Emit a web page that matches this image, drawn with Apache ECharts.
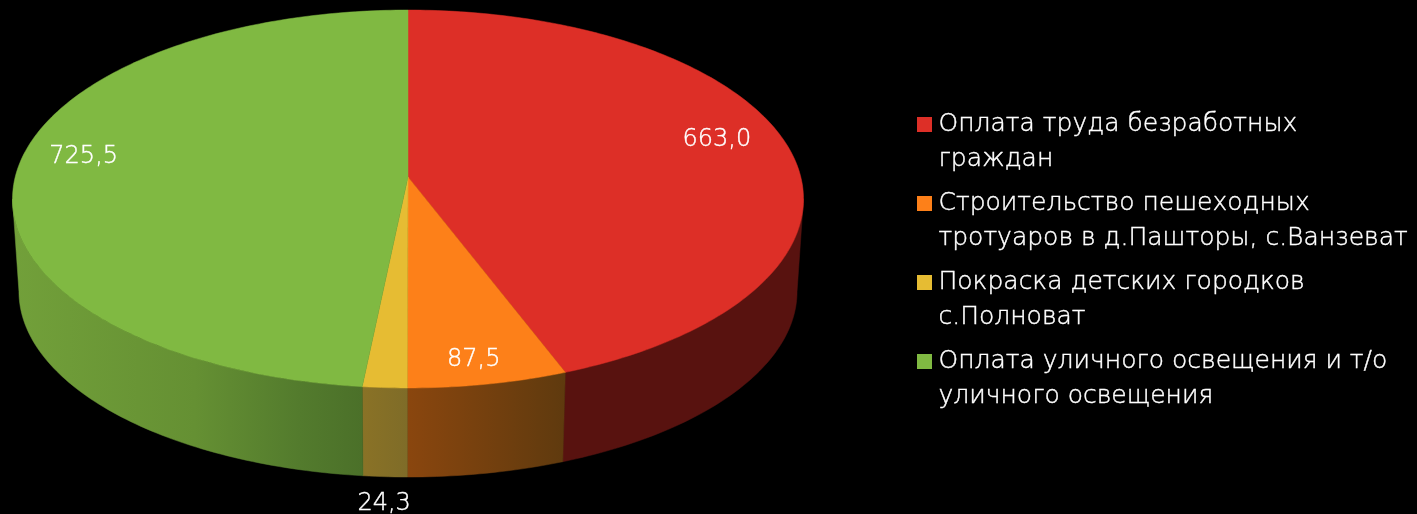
<!DOCTYPE html>
<html><head><meta charset="utf-8">
<style>html,body{margin:0;padding:0;background:#000}#c{width:1417px;height:514px}</style>
<script src="https://cdn.jsdelivr.net/npm/echarts@6/dist/echarts.min.js"></script>
</head><body><div id="c"></div>
<script>
const categories = [
  'Оплата труда безработных\nграждан',
  'Строительство пешеходных\nтротуаров в д.Пашторы, с.Ванзеват',
  'Покраска детских городков\nс.Полноват',
  'Оплата уличного освещения и т/о\nуличного освещения'
];
const values = [663.0, 87.5, 24.3, 725.5];
const topColors = ['#dd2f27', '#fd8019', '#e6bc33', '#80b942'];
const wallStops = [
  [[0, '#58120f'], [1, '#58120f']],
  [[0, '#8a460e'], [1, '#5f3a0e']],
  [[0, '#8a7226'], [1, '#7f6c28']],
  [[0, '#72a03a'], [0.52, '#659033'], [0.82, '#537b2d'], [1, '#4b7029']]
];
const labelRadius = [0.8, 0.72, 1.17, 0.8];
const labelOffsets = [[5, -11], [10, 39], [4, 75], [-12, -13]];

const total = values.reduce((a, b) => a + b, 0);
const k = 0.1164;
const topDisk = { cx: 408, cy: 177, a: 392.8, b: 186.4 };
const baseDisk = { cx: 408, cy: 269.9, a: 386.4, b: 183 };
const rimLimit = Math.acos(-k);

function project(d, theta, r) {
  const u = Math.sin(theta) * r, v = Math.cos(theta) * r, w = 1 + k * v;
  return [d.cx + d.a * u / w, d.cy - d.b * v / w];
}
function arc(d, t0, t1) {
  const n = Math.max(2, Math.ceil(Math.abs(t1 - t0) * 60)), pts = [];
  for (let i = 0; i <= n; i++) pts.push(project(d, t0 + (t1 - t0) * i / n, 1));
  return pts;
}
function sliceRange(idx) {
  let s = 0;
  for (let i = 0; i < idx; i++) s += values[i];
  return [s / total * 2 * Math.PI, (s + values[idx]) / total * 2 * Math.PI];
}

function renderSlice(idx, api) {
  const [t0, t1] = sliceRange(idx);
  const value = api.value(0);
  const children = [];
  const w0 = Math.max(t0, rimLimit), w1 = Math.min(t1, 2 * Math.PI - rimLimit);
  if (w1 > w0) {
    const upper = arc(topDisk, w0, w1), lower = arc(baseDisk, w1, w0);
    const xs = upper.concat(lower).map(p => p[0]);
    const minX = Math.min.apply(null, xs), maxX = Math.max.apply(null, xs);
    const fill = new echarts.graphic.LinearGradient(minX, 0, maxX, 0,
      wallStops[idx].map(s => ({ offset: s[0], color: s[1] })), true);
    children.push({
      type: 'polygon',
      shape: { points: upper.concat(lower) },
      style: { fill, stroke: fill, lineWidth: 0.5 }
    });
  }
  children.push({
    type: 'polygon',
    z2: 2,
    shape: { points: [[topDisk.cx, topDisk.cy]].concat(arc(topDisk, t0, t1)) },
    style: { fill: topColors[idx], stroke: topColors[idx], lineWidth: 0.5 }
  });
  const anchor = project(topDisk, (t0 + t1) / 2, labelRadius[idx]);
  children.push({
    type: 'text',
    z2: 10,
    x: anchor[0] + labelOffsets[idx][0],
    y: anchor[1] + labelOffsets[idx][1],
    style: {
      text: value.toFixed(1).replace('.', ','),
      fill: '#fff',
      stroke: '#fff',
      lineWidth: 0.4,
      font: '200 24px "DejaVu Sans"',
      align: 'center',
      verticalAlign: 'middle'
    }
  });
  return { type: 'group', children };
}

const chart = echarts.init(document.getElementById('c'), null, { renderer: 'canvas' });
chart.setOption({
  animation: false,
  backgroundColor: '#000',
  legend: {
    orient: 'vertical',
    left: 912,
    top: 67,
    icon: 'path://M0 0H10V10H0Z',
    itemWidth: 18,
    itemHeight: 15,
    itemGap: -26,
    selectedMode: false,
    formatter: name => '\n' + name,
    textStyle: {
      color: '#fff', fontFamily: 'DejaVu Sans', fontWeight: 200, fontSize: 25, lineHeight: 35,
      textBorderColor: '#fff', textBorderWidth: 0.4
    },
    data: categories
  },
  series: categories.map((name, i) => ({
    type: 'custom',
    name,
    coordinateSystem: 'none',
    itemStyle: { color: topColors[i] },
    data: [[values[i]]],
    renderItem: (params, api) => renderSlice(i, api)
  }))
});
</script></body></html>
